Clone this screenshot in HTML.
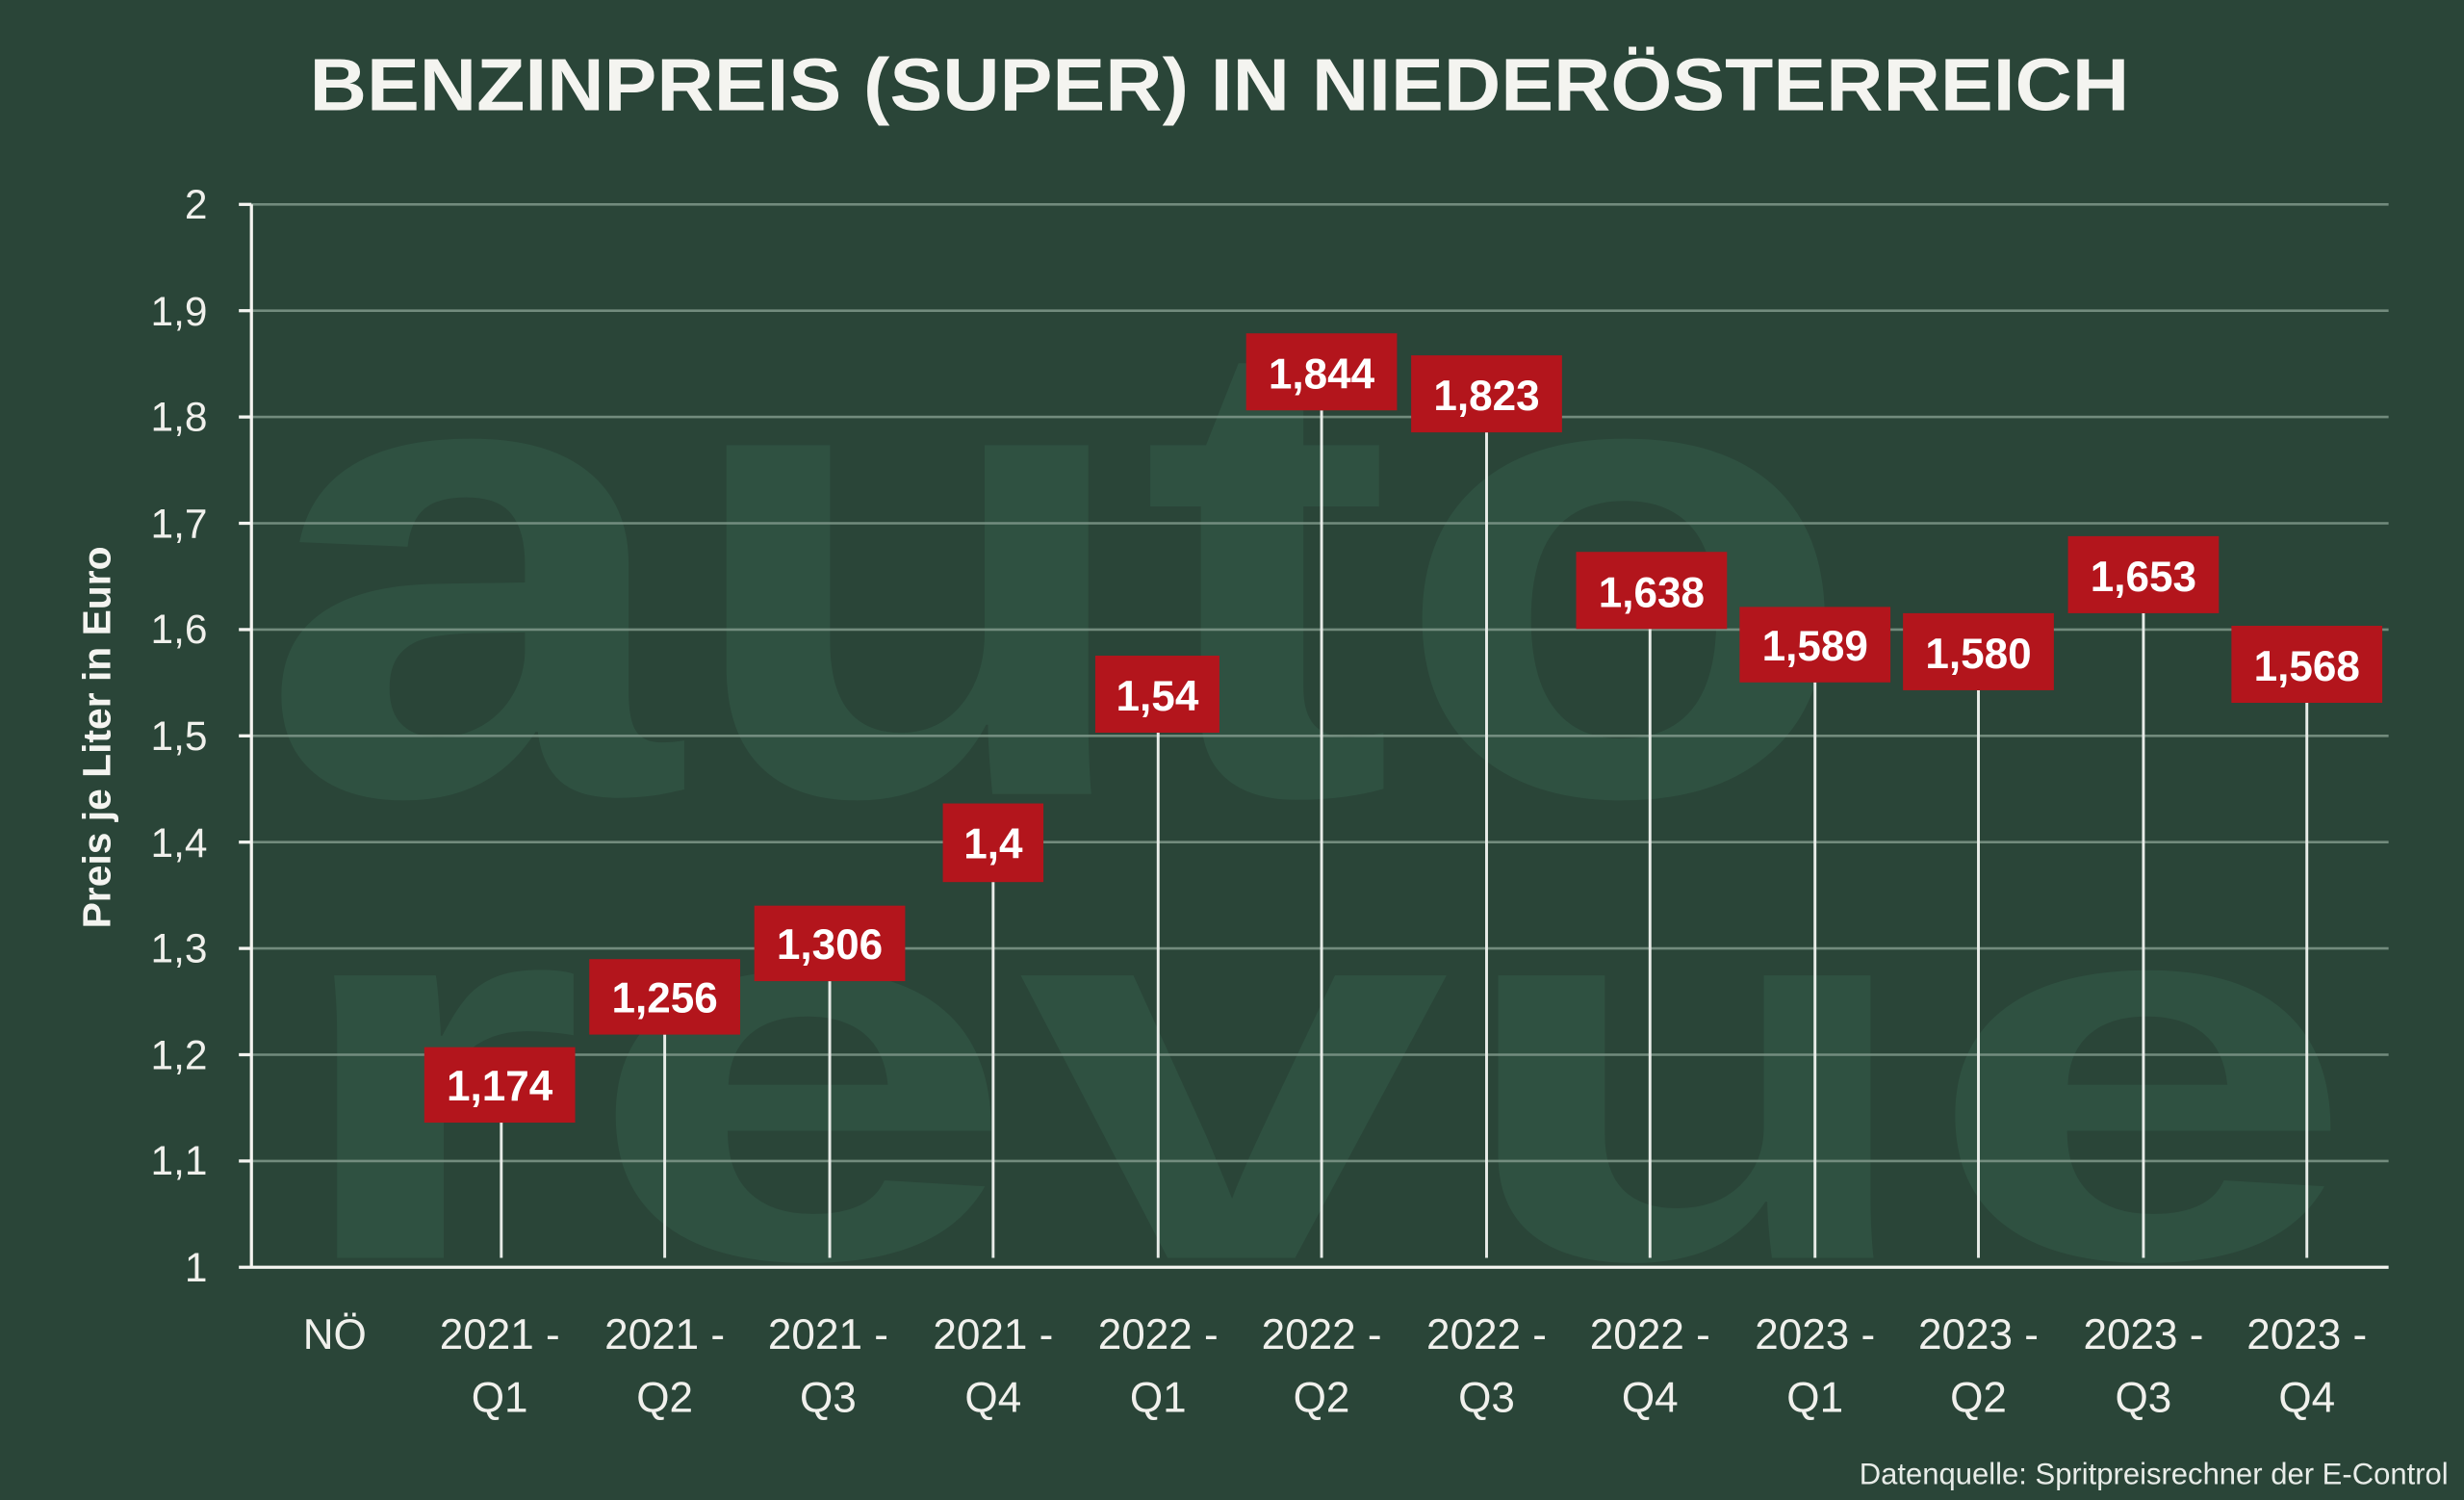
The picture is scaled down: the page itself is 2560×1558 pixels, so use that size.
<!DOCTYPE html>
<html><head><meta charset="utf-8"><style>
html,body{margin:0;padding:0;background:#2a4538;}
svg{display:block;}
</style></head><body>
<svg width="2560" height="1558" viewBox="0 0 1568 954" preserveAspectRatio="none" xmlns="http://www.w3.org/2000/svg" font-family="Liberation Sans, DejaVu Sans, sans-serif">
<rect width="1568" height="954" fill="#2a4538"/>
<!-- watermark -->
<g fill="#2f5141" font-weight="bold" font-family="Liberation Sans, sans-serif">
<text x="165" y="505" font-size="420" textLength="1015" lengthAdjust="spacingAndGlyphs">auto</text>
<text x="180" y="800" font-size="340" textLength="1320" lengthAdjust="spacingAndGlyphs">revue</text>
</g>
<!-- title -->
<text x="197" y="70" font-size="47" font-weight="bold" fill="#f4f4f0" textLength="1158" lengthAdjust="spacingAndGlyphs">BENZINPREIS (SUPER) IN NIEDERÖSTERREICH</text>
<!-- grid -->
<g stroke="#7f988a" stroke-width="1.6" opacity="0.85">
<line x1="160" y1="130" x2="1520" y2="130"/>
<line x1="160" y1="197.6" x2="1520" y2="197.6"/>
<line x1="160" y1="265.2" x2="1520" y2="265.2"/>
<line x1="160" y1="332.8" x2="1520" y2="332.8"/>
<line x1="160" y1="400.4" x2="1520" y2="400.4"/>
<line x1="160" y1="468" x2="1520" y2="468"/>
<line x1="160" y1="535.6" x2="1520" y2="535.6"/>
<line x1="160" y1="603.2" x2="1520" y2="603.2"/>
<line x1="160" y1="670.8" x2="1520" y2="670.8"/>
<line x1="160" y1="738.4" x2="1520" y2="738.4"/>
</g>
<!-- axes -->
<g stroke="#f4f4f0" stroke-width="2">
<line x1="160" y1="130" x2="160" y2="806"/>
<line x1="152" y1="806" x2="1520" y2="806"/>
<line x1="152" y1="130" x2="160" y2="130"/>
<line x1="152" y1="197.6" x2="160" y2="197.6"/>
<line x1="152" y1="265.2" x2="160" y2="265.2"/>
<line x1="152" y1="332.8" x2="160" y2="332.8"/>
<line x1="152" y1="400.4" x2="160" y2="400.4"/>
<line x1="152" y1="468" x2="160" y2="468"/>
<line x1="152" y1="535.6" x2="160" y2="535.6"/>
<line x1="152" y1="603.2" x2="160" y2="603.2"/>
<line x1="152" y1="670.8" x2="160" y2="670.8"/>
<line x1="152" y1="738.4" x2="160" y2="738.4"/>
</g>
<g fill="#f0f0ec" font-size="26" text-anchor="end">
<text x="132" y="139">2</text>
<text x="132" y="207">1,9</text>
<text x="132" y="274">1,8</text>
<text x="132" y="342">1,7</text>
<text x="132" y="409">1,6</text>
<text x="132" y="477">1,5</text>
<text x="132" y="545">1,4</text>
<text x="132" y="612">1,3</text>
<text x="132" y="680">1,2</text>
<text x="132" y="747">1,1</text>
<text x="132" y="815">1</text>
</g>
<text transform="translate(70,469) rotate(-90)" text-anchor="middle" font-size="25" font-weight="bold" fill="#f4f4f0">Preis je Liter in Euro</text>
<!-- stems -->
<g stroke="#e8ece8" stroke-width="1.8">
<line x1="319" y1="714" x2="319" y2="800"/>
<line x1="423" y1="658" x2="423" y2="800"/>
<line x1="528" y1="624" x2="528" y2="800"/>
<line x1="632" y1="561" x2="632" y2="800"/>
<line x1="737" y1="466" x2="737" y2="800"/>
<line x1="841" y1="261" x2="841" y2="800"/>
<line x1="946" y1="275" x2="946" y2="800"/>
<line x1="1050" y1="400" x2="1050" y2="800"/>
<line x1="1155" y1="434" x2="1155" y2="800"/>
<line x1="1259" y1="439" x2="1259" y2="800"/>
<line x1="1364" y1="390" x2="1364" y2="800"/>
<line x1="1468" y1="447" x2="1468" y2="800"/>
</g>
<!-- labels -->
<g fill="#b3151c">
<rect x="270" y="666" width="96" height="48"/>
<rect x="375" y="610" width="96" height="48"/>
<rect x="480" y="576" width="96" height="48"/>
<rect x="600" y="511" width="64" height="50"/>
<rect x="697" y="417" width="79" height="49"/>
<rect x="793" y="212" width="96" height="49"/>
<rect x="898" y="226" width="96" height="49"/>
<rect x="1003" y="351" width="96" height="49"/>
<rect x="1107" y="386" width="96" height="48"/>
<rect x="1211" y="390" width="96" height="49"/>
<rect x="1316" y="341" width="96" height="49"/>
<rect x="1420" y="398" width="96" height="49"/>
</g>
<g fill="#ffffff" font-size="27" font-weight="bold" text-anchor="middle">
<text x="318" y="700">1,174</text>
<text x="423" y="644">1,256</text>
<text x="528" y="610">1,306</text>
<text x="632" y="546">1,4</text>
<text x="736.5" y="452">1,54</text>
<text x="841" y="247">1,844</text>
<text x="946" y="261">1,823</text>
<text x="1051" y="386">1,638</text>
<text x="1155" y="420">1,589</text>
<text x="1259" y="425">1,580</text>
<text x="1364" y="376">1,653</text>
<text x="1468" y="433">1,568</text>
</g>
<!-- x labels -->
<g fill="#f0f0ec" font-size="27" text-anchor="middle">
<text x="213" y="858">NÖ</text>
<text x="318" y="858">2021 -</text><text x="318" y="898">Q1</text>
<text x="423" y="858">2021 -</text><text x="423" y="898">Q2</text>
<text x="527" y="858">2021 -</text><text x="527" y="898">Q3</text>
<text x="632" y="858">2021 -</text><text x="632" y="898">Q4</text>
<text x="737" y="858">2022 -</text><text x="737" y="898">Q1</text>
<text x="841" y="858">2022 -</text><text x="841" y="898">Q2</text>
<text x="946" y="858">2022 -</text><text x="946" y="898">Q3</text>
<text x="1050" y="858">2022 -</text><text x="1050" y="898">Q4</text>
<text x="1155" y="858">2023 -</text><text x="1155" y="898">Q1</text>
<text x="1259" y="858">2023 -</text><text x="1259" y="898">Q2</text>
<text x="1364" y="858">2023 -</text><text x="1364" y="898">Q3</text>
<text x="1468" y="858">2023 -</text><text x="1468" y="898">Q4</text>
</g>
<text x="1558" y="944" text-anchor="end" font-size="19" fill="#e8ece8">Datenquelle: Spritpreisrechner der E-Control</text>
</svg>
</body></html>
